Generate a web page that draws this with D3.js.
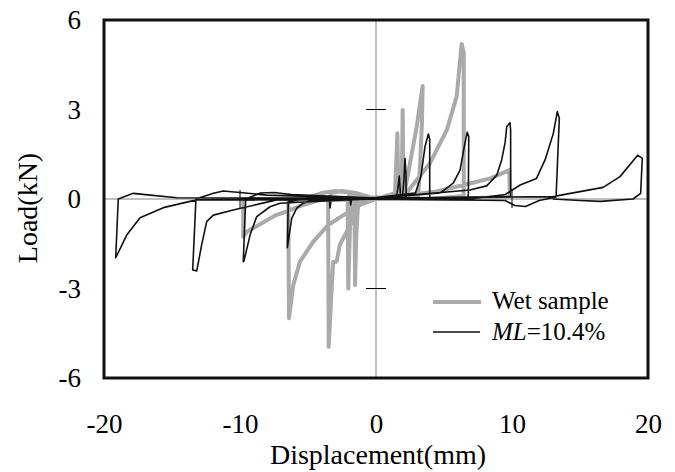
<!DOCTYPE html>
<html>
<head>
<meta charset="utf-8">
<script src="https://cdn.jsdelivr.net/npm/d3@7"></script>
<style>
  body { margin: 0; background: #fff; }
  svg text { font-family: "Liberation Serif", "DejaVu Serif", serif; fill: #000; }
</style>
</head>
<body>
<svg id="chart" width="675" height="472"></svg>
<script>
// displacement (mm), load (kN) pairs
const wetSample = [
  [0, 0], [1.3, 0.02], [1.4, 0.19], [1.57, 2.2], [1.64, 0.3], [1.66, 0.02], [0, 0],
  [-1.3, -0.05], [-1.45, -1.2], [-1.54, -2.88], [-1.58, -0.3], [-1.5, 0.05],
  [1.85, 0.05], [1.89, 0.19], [1.96, 2.98], [2.02, 0.2], [2.05, 0.02], [0, 0],
  [-1.85, -0.05], [-1.95, -1.5], [-2.04, -3.0], [-2.08, -0.2], [-2.0, 0.1], [0, 0],
  [2.13, 0.3], [2.5, 1.2], [2.99, 2.42], [3.43, 3.79], [3.38, 2.6], [3.25, 1.2], [3.1, 0.1], [0, 0.02],
  [-1.0, 0.05], [-1.9, -0.87], [-2.65, -1.52], [-2.9, -2.1], [-3.14, -2.1], [-3.25, -2.9],
  [-3.48, -4.95], [-3.52, -0.1], [-3.3, 0.2], [-2.5, 0.27], [-1.5, 0.2], [0, 0],
  [2.25, 0.2], [2.6, 0.41], [3.97, 1.2], [5.2, 2.31], [5.93, 3.43], [6.3, 5.2], [6.45, 4.9],
  [6.45, 0.1], [4, 0], [0, 0],
  [-1.18, -0.2], [-2.4, -0.54], [-3.51, -0.87], [-4.61, -1.43], [-5.59, -2.1], [-6.08, -2.88],
  [-6.4, -4.0], [-6.45, -0.1], [-5, 0.05], [-4, 0.2], [-3, 0.27], [-2, 0.22], [0, 0],
  [4.46, 0.25], [6.9, 0.52], [8.4, 0.69], [9.8, 0.97], [9.85, 0.08], [6, 0], [0, 0],
  [-4.1, -0.03], [-5.37, -0.2], [-6.6, -0.42], [-7.35, -0.54], [-9.5, -1.1], [-9.76, -1.27],
  [-9.76, 0], [0, 0]
];

const ml104 = [
  [0, 0], [1.5, 0.05], [1.62, 0.4], [1.71, 0.77], [1.78, 0.3], [1.8, 0.05], [0, 0],
  [-1.8, -0.02], [-1.86, -0.2], [-1.9, -0.02], [0, 0.02],
  [1.95, 0.1], [2.05, 0.6], [2.13, 1.36], [2.2, 0.9], [2.22, 0.05], [0, 0],
  [-3.3, -0.03], [-3.38, -0.3], [-3.42, -0.03], [0, 0.05],
  [2.9, 0.2], [3.3, 0.75], [3.6, 1.75], [3.85, 2.18], [3.95, 2.0], [3.95, 0.05], [0, 0.03],
  [-4.63, -0.03], [-5.35, -0.14], [-5.83, -0.31], [-6.2, -0.65], [-6.52, -1.63], [-6.45, -0.09],
  [-4.5, 0.08], [0, 0.03],
  [4.7, 0.2], [5.68, 0.53], [6.18, 0.97], [6.54, 1.87], [6.71, 2.24], [6.82, 2.09], [6.79, 0.19],
  [6.75, 0], [0, 0.02],
  [-7.06, -0.14], [-7.79, -0.26], [-8.77, -0.59], [-9.26, -1.21], [-9.71, -2.08], [-9.76, -2.1],
  [-9.58, 0], [-8.5, 0.2], [-7.5, 0.22], [-6.2, 0.15], [0, 0.03],
  [6.9, 0.3], [8.14, 0.44], [8.88, 0.8], [9.24, 1.31], [9.49, 1.88], [9.61, 2.42], [9.85, 2.56],
  [9.9, 2.3], [9.9, 0.08], [0, 0.02],
  [-7.3, -0.03], [-10.5, -0.37], [-11.96, -0.54], [-12.45, -0.76], [-12.82, -1.54], [-13.18, -2.41],
  [-13.48, -2.38], [-13.24, 0], [-11.96, 0.19], [-11.23, 0.27], [-10, 0.22], [-8.04, 0.13], [0, 0.02],
  [7, 0], [9.5, 0.15], [10.6, 0.47], [11.8, 0.69], [12.43, 1.31], [13.04, 2.2], [13.33, 2.93],
  [13.48, 2.7], [13.24, 0.07], [12, -0.05], [11, -0.25], [10.2, -0.22], [9.5, -0.05], [0, 0],
  [-13.2, -0.03], [-15.64, -0.29], [-17.35, -0.63], [-18.33, -1.21], [-19.14, -1.97], [-18.95, 0],
  [-17.85, 0.19], [-16.6, 0.13], [-14.65, 0.04], [0, 0.02],
  [13.0, 0.08], [16.7, 0.39], [17.94, 0.75], [19.24, 1.47], [19.58, 1.36], [19.46, 0.19],
  [18.9, 0], [16.5, -0.08], [15, -0.05], [13, 0]
];

const xTicks = [-20, -10, 0, 10, 20];
const yTicks = [-6, -3, 0, 3, 6];
const innerXTicks = [-10, 10];
const innerYTicks = [-3, 3];

const plotLeft = 104, plotRight = 648, plotTop = 20, plotBottom = 378;

const svg = d3.select('#chart');
const x = d3.scaleLinear().domain([-20, 20]).range([plotLeft, plotRight]);
const y = d3.scaleLinear().domain([-6, 6]).range([plotBottom, plotTop]);

// zero lines
svg.append('line').attr('x1', plotLeft).attr('x2', plotRight).attr('y1', y(0)).attr('y2', y(0))
  .attr('stroke', '#808080').attr('stroke-width', 1);
svg.append('line').attr('x1', x(0)).attr('x2', x(0)).attr('y1', plotTop).attr('y2', plotBottom)
  .attr('stroke', '#808080').attr('stroke-width', 1);

// small ticks sitting on the zero lines
svg.selectAll('.ytk').data(innerYTicks).enter().append('line')
  .attr('x1', x(0) - 10).attr('x2', x(0) + 10)
  .attr('y1', (d) => y(d)).attr('y2', (d) => y(d))
  .attr('stroke', '#000').attr('stroke-width', 1);
svg.selectAll('.xtk').data(innerXTicks).enter().append('line')
  .attr('x1', (d) => x(d)).attr('x2', (d) => x(d))
  .attr('y1', y(0) - 9).attr('y2', y(0) + 9)
  .attr('stroke', '#000').attr('stroke-width', 1);

const line = d3.line().x((d) => x(d[0])).y((d) => y(d[1]));

svg.append('path').datum(wetSample).attr('d', line).attr('fill', 'none')
  .attr('stroke', '#aaaaaa').attr('stroke-width', 4).attr('stroke-linejoin', 'round');
svg.append('path').datum(ml104).attr('d', line).attr('fill', 'none')
  .attr('stroke', '#111').attr('stroke-width', 1.6).attr('stroke-linejoin', 'round');

// frame
svg.append('rect').attr('x', plotLeft).attr('y', plotTop)
  .attr('width', plotRight - plotLeft).attr('height', plotBottom - plotTop)
  .attr('fill', 'none').attr('stroke', '#111').attr('stroke-width', 3);

// tick labels
const xAxis = svg.append('g')
  .attr('transform', `translate(0,${plotBottom})`)
  .call(d3.axisBottom(x).tickValues(xTicks).tickSize(0).tickPadding(36).tickFormat((d) => String(d)));
const yAxis = svg.append('g')
  .attr('transform', `translate(${plotLeft},0)`)
  .call(d3.axisLeft(y).tickValues(yTicks).tickSize(0).tickPadding(23).tickFormat((d) => String(d)));
[xAxis, yAxis].forEach((g) => {
  g.attr('font-family', null).attr('font-size', 27);
  g.select('.domain').remove();
});

// axis titles
svg.append('text').attr('x', x(0) + 2).attr('y', 464).attr('text-anchor', 'middle')
  .attr('font-size', 28).text('Displacement(mm)');
svg.append('text').attr('transform', 'translate(37,208) rotate(-90)').attr('text-anchor', 'middle')
  .attr('font-size', 28).text('Load(kN)');

// legend
const legend = svg.append('g');
legend.append('line').attr('x1', 433).attr('x2', 481).attr('y1', 302).attr('y2', 302)
  .attr('stroke', '#aaaaaa').attr('stroke-width', 4);
legend.append('text').attr('x', 492).attr('y', 309).attr('font-size', 25).text('Wet sample');
legend.append('line').attr('x1', 433).attr('x2', 480).attr('y1', 332).attr('y2', 332)
  .attr('stroke', '#111').attr('stroke-width', 1.6);
const ml = legend.append('text').attr('x', 492).attr('y', 340).attr('font-size', 25);
ml.append('tspan').attr('font-style', 'italic').text('ML');
ml.append('tspan').text('=10.4%');
</script>
</body>
</html>
